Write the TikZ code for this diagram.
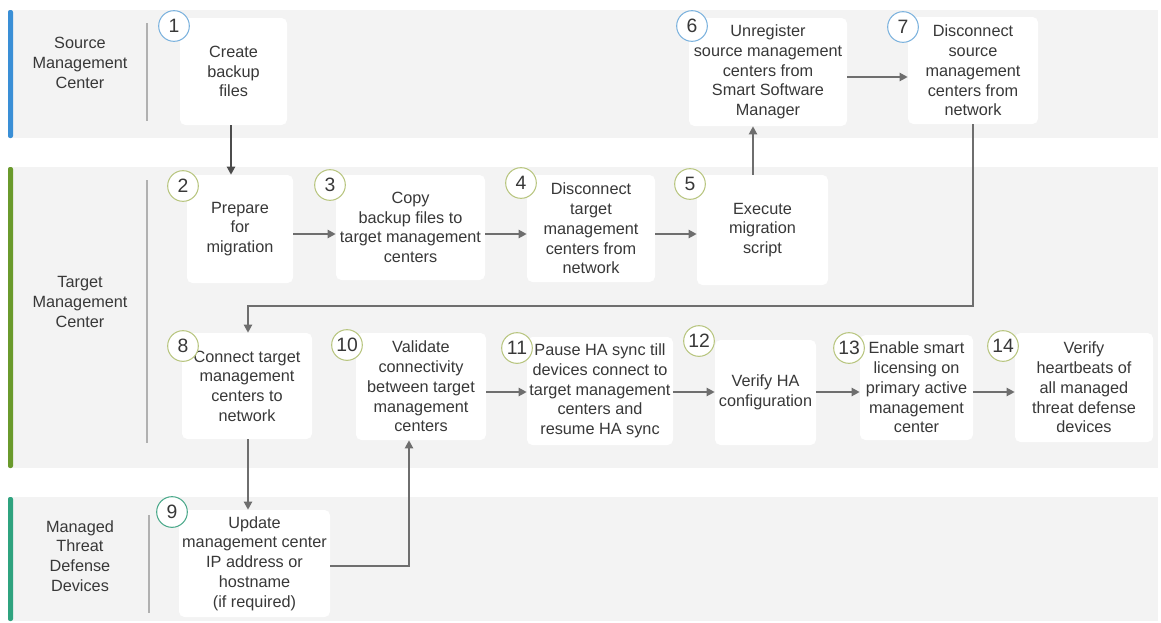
\documentclass[tikz,border=0pt]{standalone}
\usepackage{fontspec}
\setmainfont{Liberation Sans}
\usetikzlibrary{arrows.meta}
\definecolor{lanebg}{HTML}{F3F3F3}
\definecolor{txt}{HTML}{383838}
\definecolor{conn}{HTML}{6E6E6E}
\definecolor{sepc}{HTML}{B0B0B0}
\definecolor{srcbar}{HTML}{3A8FD6}
\definecolor{tgtbar}{HTML}{6A9A2C}
\definecolor{mgdbar}{HTML}{2FA37F}
\definecolor{srccirc}{HTML}{7DB3DE}
\definecolor{tgtcirc}{HTML}{B9C681}
\definecolor{mgdcirc}{HTML}{4DAA8C}
\begin{document}
\begin{tikzpicture}[x=0.75pt,y=-0.75pt,
  box/.style={draw=none,fill=white,rounded corners=4pt,align=center,inner sep=0pt,
    text=txt,font=\fontsize{12.2}{14.8}\selectfont},
  bsz/.style 2 args={minimum width={#1*0.75pt},minimum height={#2*0.75pt}},
  num/.style={circle,draw=#1,line width=0.8pt,fill=white,minimum size=23pt,inner sep=0pt,
    text=txt,font=\fontsize{14.5}{14.5}\selectfont},
  lane/.style={align=center,text=txt,font=\fontsize{12.2}{14.8}\selectfont},
  arr/.style={draw=conn,line width=1.5pt,-{Triangle[length=6pt,width=6pt]}},
  sep/.style={draw=sepc,line width=0.8pt}]
\useasboundingbox (0,0) rectangle (1161,622);
% lanes
\fill[lanebg] (8,10) rectangle (1158,138);
\fill[lanebg] (8,167) rectangle (1158,468);
\fill[lanebg] (8,497) rectangle (1158,621);
\fill[srcbar,rounded corners=1.5pt] (8,10) rectangle (13,138);
\fill[tgtbar,rounded corners=1.5pt] (8,167) rectangle (13,468);
\fill[mgdbar,rounded corners=1.5pt] (8,497) rectangle (13,621);
\draw[sep] (147,23) -- (147,121);
\draw[sep] (147,180) -- (147,443);
\draw[sep] (149,515) -- (149,613);
\node[lane] (lsrc) at (80,63) {Source\\Management\\Center};
\node[lane] (ltgt) at (80,302) {Target\\Management\\Center};
\node[lane] (lmgd) at (80,556) {Managed\\Threat\\Defense\\Devices};
% boxes
\node[box,bsz={107}{107}] (b1) at (233.5,71.5) {Create\\backup\\files};
\node[box,bsz={106}{108}] (b2) at (240,229) {Prepare\\for\\migration};
\node[box,bsz={149}{105}] (b3) at (410.5,227.5) {Copy\\backup files to\\target management\\centers};
\node[box,bsz={128}{107}] (b4) at (591,228.5) {Disconnect\\target\\management\\centers from\\network};
\node[box,bsz={131}{110}] (b5) at (762.5,230) {Execute\\migration\\script};
\node[box,bsz={158}{108}] (b6) at (768,72) {Unregister\\source management\\centers from\\Smart Software\\Manager};
\node[box,bsz={130}{107}] (b7) at (973,70.5) {Disconnect\\source\\management\\centers from\\network};
\node[box,bsz={130}{106}] (b8) at (247,386) {Connect target\\management\\centers to\\network};
\node[box,bsz={151}{107}] (b9) at (254.5,563.5) {Update\\management center\\IP address or\\hostname\\(if required)};
\node[box,bsz={130}{107}] (b10) at (421,386.5) {Validate\\connectivity\\between target\\management\\centers};
\node[box,bsz={146}{108}] (b11) at (600,391) {Pause HA sync till\\devices connect to\\target management\\centers and\\resume HA sync};
\node[box,bsz={101}{105}] (b12) at (765.5,392.5) {Verify HA\\configuration};
\node[box,bsz={113}{105}] (b13) at (916.5,387.5) {Enable smart\\licensing on\\primary active\\management\\center};
\node[box,bsz={138}{109}] (b14) at (1084,387.5) {Verify\\heartbeats of\\all managed\\threat defense\\devices};
% number circles
\node[num=srccirc] (n1) at (174,26) {1};
\node[num=tgtcirc] (n2) at (183,186) {2};
\node[num=tgtcirc] (n3) at (330,185) {3};
\node[num=tgtcirc] (n4) at (521,183) {4};
\node[num=tgtcirc] (n5) at (690,184) {5};
\node[num=srccirc] (n6) at (692,26) {6};
\node[num=srccirc] (n7) at (903,27) {7};
\node[num=tgtcirc] (n8) at (183,346) {8};
\node[num=mgdcirc] (n9) at (172,512) {9};
\node[num=tgtcirc] (n10) at (347,345) {10};
\node[num=tgtcirc] (n11) at (517,348) {11};
\node[num=tgtcirc] (n12) at (699,341) {12};
\node[num=tgtcirc] (n13) at (849,348) {13};
\node[num=tgtcirc] (n14) at (1003,346) {14};
% connector helper coordinates
\coordinate (x12) at (231,0);
\coordinate (y23) at (0,234);
\coordinate (x56) at (753,0);
\coordinate (y67) at (0,77);
\coordinate (x7) at (973,0);
\coordinate (y78) at (0,306);
\coordinate (x89) at (248,0);
\coordinate (y910) at (0,566);
\coordinate (x910) at (409,0);
\coordinate (yb) at (0,392);
% connectors
\draw[arr,draw=black!70,line width=2pt] (b1.south -| x12) -- (b2.north -| x12);
\draw[arr] (b2.east |- y23) -- (b3.west |- y23);
\draw[arr] (b3.east |- y23) -- (b4.west |- y23);
\draw[arr] (b4.east |- y23) -- (b5.west |- y23);
\draw[arr] (b5.north -| x56) -- (b6.south -| x56);
\draw[arr] (b6.east |- y67) -- (b7.west |- y67);
\draw[arr] (b7.south -| x7) -- (x7 |- y78) -- (x89 |- y78) -- (b8.north -| x89);
\draw[arr] (b8.south -| x89) -- (b9.north -| x89);
\draw[arr] (b9.east |- y910) -- (x910 |- y910) -- (b10.south -| x910);
\draw[arr] (b10.east |- yb) -- (b11.west |- yb);
\draw[arr] (b11.east |- yb) -- (b12.west |- yb);
\draw[arr] (b12.east |- yb) -- (b13.west |- yb);
\draw[arr] (b13.east |- yb) -- (b14.west |- yb);
\end{tikzpicture}
\end{document}
